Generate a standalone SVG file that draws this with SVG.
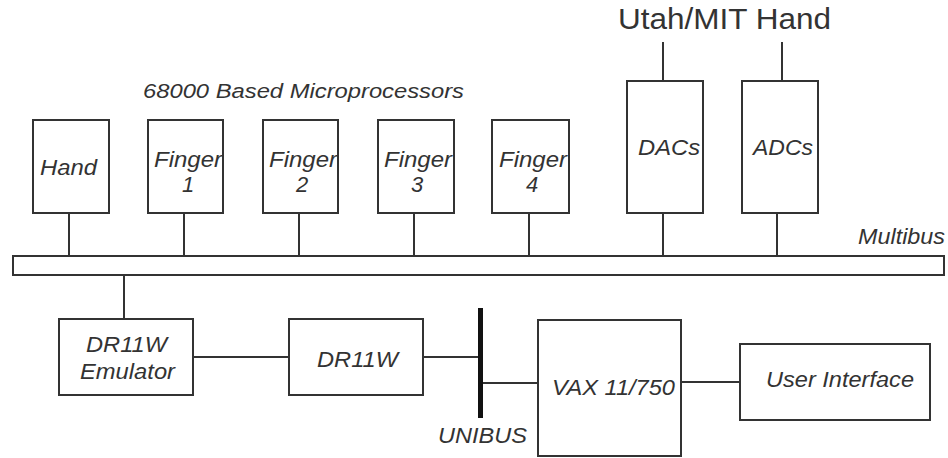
<svg xmlns="http://www.w3.org/2000/svg" width="948" height="458" viewBox="0 0 948 458">
<style>
.box{fill:#fff;stroke:#333;stroke-width:2}
.ln{stroke:#333;stroke-width:2;fill:none}
.t{font-family:"Liberation Sans",Arial,sans-serif;font-style:italic;font-size:22px;fill:#333;text-anchor:middle}
.u{font-family:"Liberation Sans",Arial,sans-serif;font-size:30px;fill:#333;text-anchor:middle}
</style>
<rect width="948" height="458" fill="#fff"/>
<text class="u" x="724.5" y="29" textLength="213" lengthAdjust="spacingAndGlyphs">Utah/MIT Hand</text>
<text class="t" x="303.5" y="98" style="font-size:20px" textLength="321" lengthAdjust="spacingAndGlyphs">68000 Based Microprocessors</text>
<text class="t" x="901.5" y="244" textLength="87" lengthAdjust="spacingAndGlyphs">Multibus</text>
<text class="t" x="482.5" y="443" textLength="89" lengthAdjust="spacingAndGlyphs">UNIBUS</text>
<g id="connectors">
<line class="ln" x1="69" y1="213" x2="69" y2="256"/>
<line class="ln" x1="184" y1="213" x2="184" y2="256"/>
<line class="ln" x1="299" y1="213" x2="299" y2="256"/>
<line class="ln" x1="414" y1="213" x2="414" y2="256"/>
<line class="ln" x1="529" y1="213" x2="529" y2="256"/>
<line class="ln" x1="663" y1="213" x2="663" y2="256"/>
<line class="ln" x1="777" y1="213" x2="777" y2="256"/>
<line class="ln" x1="663" y1="42" x2="663" y2="81"/>
<line class="ln" x1="782" y1="42" x2="782" y2="81"/>
<line class="ln" x1="124" y1="275" x2="124" y2="319"/>
<line class="ln" x1="193" y1="357" x2="289" y2="357"/>
<line class="ln" x1="423" y1="357" x2="480" y2="357"/>
<line class="ln" x1="480" y1="383" x2="538" y2="383"/>
<line class="ln" x1="681" y1="382" x2="740" y2="382"/>
</g>
<g id="multibus"><rect class="box" x="13" y="256" width="931" height="19"/></g>
<g id="unibus"><rect x="478" y="308" width="5" height="110" fill="#111"/></g>
<g id="hand"><rect class="box" x="33" y="120" width="76" height="93"/><text class="t" x="68.5" y="175" textLength="57" lengthAdjust="spacingAndGlyphs">Hand</text></g>
<g id="finger1"><rect class="box" x="148" y="120" width="75" height="93"/><text class="t" x="188" y="167" textLength="68" lengthAdjust="spacingAndGlyphs">Finger</text><text class="t" x="188" y="192">1</text></g>
<g id="finger2"><rect class="box" x="263" y="120" width="75" height="93"/><text class="t" x="303" y="167" textLength="68" lengthAdjust="spacingAndGlyphs">Finger</text><text class="t" x="302" y="192">2</text></g>
<g id="finger3"><rect class="box" x="378" y="120" width="76" height="93"/><text class="t" x="418" y="167" textLength="68" lengthAdjust="spacingAndGlyphs">Finger</text><text class="t" x="417" y="192">3</text></g>
<g id="finger4"><rect class="box" x="492" y="120" width="77" height="93"/><text class="t" x="533" y="167" textLength="68" lengthAdjust="spacingAndGlyphs">Finger</text><text class="t" x="532" y="192">4</text></g>
<g id="dacs"><rect class="box" x="627" y="81" width="76" height="132"/><text class="t" x="669" y="155" textLength="62" lengthAdjust="spacingAndGlyphs">DACs</text></g>
<g id="adcs"><rect class="box" x="742" y="81" width="76" height="132"/><text class="t" x="783" y="155" textLength="60" lengthAdjust="spacingAndGlyphs">ADCs</text></g>
<g id="emulator"><rect class="box" x="59" y="319" width="134" height="76"/><text class="t" x="126.5" y="352" textLength="81" lengthAdjust="spacingAndGlyphs">DR11W</text><text class="t" x="127.5" y="379" textLength="95" lengthAdjust="spacingAndGlyphs">Emulator</text></g>
<g id="dr11w"><rect class="box" x="289" y="319" width="134" height="76"/><text class="t" x="357.5" y="367" textLength="81" lengthAdjust="spacingAndGlyphs">DR11W</text></g>
<g id="vax"><rect class="box" x="538" y="320" width="143" height="136"/><text class="t" x="613.5" y="395" textLength="123" lengthAdjust="spacingAndGlyphs">VAX 11/750</text></g>
<g id="ui"><rect class="box" x="740" y="344" width="190" height="76"/><text class="t" x="840" y="387" textLength="148" lengthAdjust="spacingAndGlyphs">User Interface</text></g>
</svg>
